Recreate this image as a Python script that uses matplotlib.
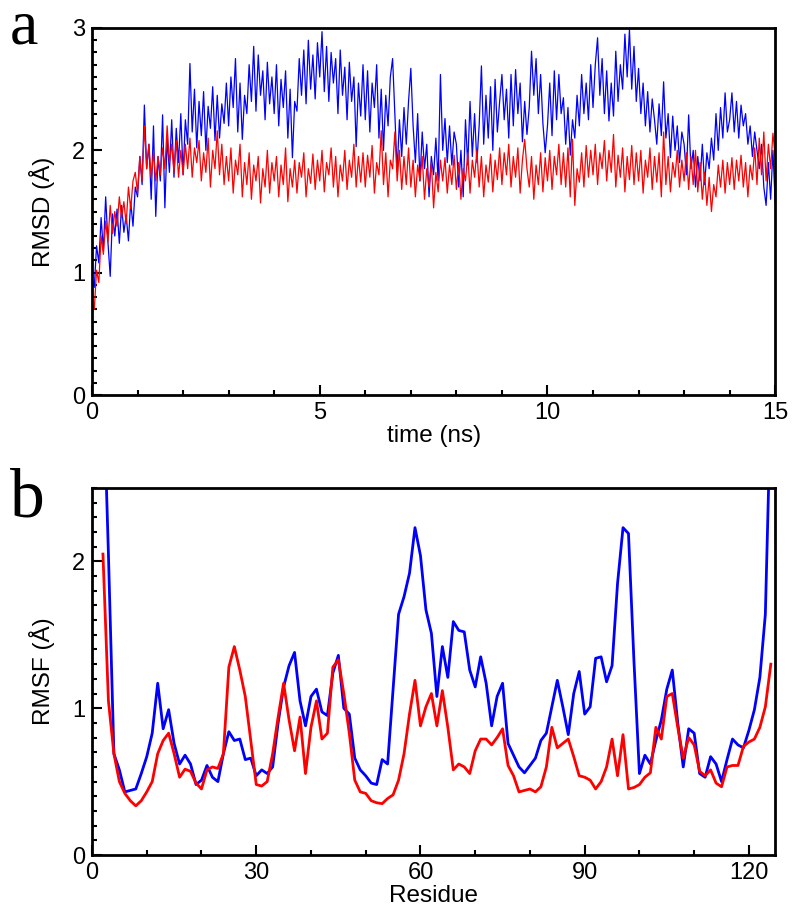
import numpy as np
import matplotlib
matplotlib.use("Agg")
import matplotlib.pyplot as plt
from matplotlib.ticker import MultipleLocator

# RMSD traces, one row per ns, step 0.05 ns
rmsd_dt = 0.05
rmsd_blue = [
    0.95, 0.88, 1.22, 1.08, 1.45, 1.18, 1.62, 1.25, 0.97, 1.48, 1.30, 1.52, 1.24, 1.55, 1.33, 1.47, 1.26, 1.58, 1.38, 1.70,
    1.62, 1.95, 1.72, 2.37, 1.85, 2.05, 1.60, 2.20, 1.46, 1.95, 1.75, 2.29, 1.53, 2.10, 1.82, 2.25, 1.78, 2.18, 1.90, 2.30,
    1.80, 2.25, 2.05, 2.71, 2.15, 2.50, 2.02, 2.40, 2.12, 2.48, 2.00, 2.36, 2.18, 2.52, 2.08, 2.45, 2.10, 2.38, 2.22, 2.55,
    2.20, 2.60, 2.35, 2.75, 2.15, 2.55, 2.09, 2.45, 2.30, 2.70, 2.40, 2.85, 2.32, 2.78, 2.45, 2.65, 2.25, 2.72, 2.38, 2.60,
    2.30, 2.70, 2.20, 2.58, 2.35, 2.65, 2.10, 2.50, 1.94, 2.40, 2.32, 2.75, 2.45, 2.82, 2.38, 2.90, 2.50, 2.78, 2.42, 2.88,
    2.60, 2.97, 2.48, 2.85, 2.40, 2.80, 2.55, 2.75, 2.30, 2.82, 2.45, 2.68, 2.25, 2.72, 2.40, 2.60, 2.03, 2.55, 2.28, 2.70,
    2.25, 2.65, 2.15, 2.55, 2.35, 2.70, 2.10, 2.50, 2.00, 2.45, 2.20, 2.60, 2.75, 2.30, 1.83, 2.25, 1.95, 2.35, 2.05, 2.40,
    2.67, 2.20, 1.90, 2.30, 1.75, 2.15, 1.85, 2.05, 1.62, 1.95, 1.80, 2.10, 1.75, 2.62, 2.00, 2.26, 1.90, 2.20, 1.88, 2.15,
    2.05, 1.70, 2.00, 1.62, 2.25, 1.88, 2.40, 1.95, 2.30, 1.90, 2.20, 2.69, 2.05, 2.45, 2.10, 2.52, 2.00, 2.58, 2.15, 2.40,
    2.62, 2.25, 2.50, 2.10, 2.62, 2.20, 2.66, 2.30, 2.55, 2.07, 2.40, 2.13, 2.35, 2.81, 2.45, 2.75, 2.30, 2.62, 2.22, 1.98,
    2.20, 2.55, 2.12, 2.65, 2.25, 2.62, 2.30, 2.43, 2.05, 2.35, 1.96, 2.25, 2.10, 2.45, 2.20, 2.62, 2.30, 2.55, 2.25, 2.70,
    2.35, 2.70, 2.92, 2.45, 2.75, 2.30, 2.65, 2.24, 2.55, 2.28, 2.81, 2.40, 2.70, 2.50, 2.95, 2.60, 2.99, 2.50, 2.85, 2.40,
    2.67, 2.30, 2.55, 2.20, 2.48, 2.15, 2.42, 2.25, 2.05, 2.38, 2.12, 2.56, 2.10, 2.30, 1.94, 2.28, 2.00, 2.20, 1.90, 2.15,
    2.05, 1.80, 2.29, 1.85, 2.00, 1.70, 1.95, 1.75, 2.05, 1.72, 1.98, 1.85, 2.10, 1.92, 2.30, 2.00, 2.35, 2.10, 2.47, 2.15,
    2.25, 2.47, 2.15, 2.40, 2.10, 2.37, 2.20, 2.30, 2.05, 2.20, 1.95, 2.15, 2.00, 1.85, 2.05, 1.70, 1.55, 1.90, 1.60, 2.00,
    1.57,
]
rmsd_red = [
    0.75, 0.70, 1.02, 0.92, 1.30, 1.15, 1.42, 1.25, 1.55, 1.32, 1.50, 1.38, 1.62, 1.45, 1.58, 1.40, 1.70, 1.52, 1.75, 1.82,
    1.65, 1.95, 1.75, 2.20, 1.85, 2.05, 1.78, 1.98, 1.75, 1.95, 1.80, 2.02, 1.85, 2.20, 1.90, 2.05, 1.82, 2.08, 1.78, 2.00,
    1.80, 2.05, 1.85, 2.10, 1.78, 2.02, 1.90, 2.08, 1.75, 1.98, 1.82, 2.10, 1.70, 2.00, 1.85, 2.16, 1.80, 2.05, 1.72, 1.95,
    1.75, 2.02, 1.65, 1.92, 1.80, 2.05, 1.62, 1.90, 1.72, 1.98, 1.60, 1.88, 1.75, 1.95, 1.57, 1.85, 1.70, 2.00, 1.65, 1.90,
    1.75, 1.95, 1.62, 1.88, 1.72, 2.02, 1.58, 1.85, 1.70, 1.92, 1.65, 1.90, 1.78, 1.98, 1.62, 1.85, 1.73, 1.97, 1.68, 1.92,
    1.75, 2.00, 1.66, 1.90, 1.80, 2.02, 1.70, 1.95, 1.62, 1.88, 1.75, 2.00, 1.68, 1.92, 1.78, 2.05, 1.70, 1.95, 1.74, 1.98,
    1.70, 1.96, 1.78, 2.04, 1.65, 1.90, 1.80, 2.16, 1.72, 1.98, 1.62, 1.92, 1.85, 2.15, 1.75, 2.00, 1.68, 1.95, 1.72, 2.02,
    1.70, 1.92, 1.62, 1.88, 1.75, 1.95, 1.60, 1.85, 1.70, 1.90, 1.53, 1.82, 1.66, 1.92, 1.75, 1.94, 1.65, 1.88, 1.72, 1.96,
    1.68, 1.90, 1.60, 1.85, 1.75, 1.98, 1.65, 1.92, 1.78, 2.00, 1.70, 1.95, 1.62, 1.88, 1.74, 1.97, 1.66, 1.92, 1.76, 2.02,
    1.72, 1.98, 1.80, 2.05, 1.70, 1.95, 1.78, 2.02, 1.65, 1.92, 2.09, 1.85, 1.70, 1.95, 1.60, 1.88, 1.72, 1.98, 1.66, 1.94,
    1.75, 2.00, 1.68, 1.95, 1.80, 2.05, 1.72, 1.98, 1.70, 2.02, 1.62, 2.09, 1.55, 1.85, 1.74, 1.98, 1.70, 2.04, 1.78, 2.00,
    1.80, 2.05, 1.72, 1.98, 1.85, 2.08, 1.75, 2.00, 1.82, 2.13, 1.70, 1.96, 1.78, 2.02, 1.66, 1.95, 1.76, 2.04, 1.72, 1.98,
    1.75, 2.00, 1.65, 1.92, 1.78, 2.02, 1.68, 1.95, 1.74, 1.98, 1.62, 2.15, 1.72, 1.95, 1.66, 1.90, 1.78, 2.00, 1.70, 1.92,
    1.75, 1.98, 1.68, 1.95, 1.72, 2.00, 1.66, 1.90, 1.60, 1.82, 1.55, 1.78, 1.50, 1.72, 1.62, 1.88, 1.70, 1.92, 1.65, 1.90,
    1.72, 1.94, 1.68, 1.92, 1.75, 1.96, 1.70, 1.90, 1.62, 1.88, 1.76, 2.02, 1.72, 2.10, 1.80, 2.15, 1.75, 2.05, 1.85, 2.14,
    1.95,
]

# RMSF per residue, residues 2..124
rmsf_first_res = 2
rmsf_blue = [
    3.30, 2.05, 0.69, 0.58, 0.43, 0.44, 0.45, 0.555, 0.67,            # 2-10
    0.83, 1.17, 0.86, 0.99, 0.76, 0.62, 0.68, 0.62, 0.48, 0.51,       # 11-20
    0.61, 0.53, 0.50, 0.69, 0.84, 0.78, 0.79, 0.65, 0.66, 0.54,       # 21-30
    0.58, 0.555, 0.60, 0.90, 1.145, 1.29, 1.38, 1.05, 0.88, 1.08,     # 31-40
    1.13, 0.975, 0.95, 1.24, 1.36, 1.00, 0.96, 0.66, 0.58, 0.54,      # 41-50
    0.49, 0.48, 0.65, 0.62, 1.13, 1.64, 1.76, 1.92, 2.23, 2.04,       # 51-60
    1.67, 1.51, 1.08, 1.42, 1.21, 1.59, 1.53, 1.52, 1.26, 1.145,      # 61-70
    1.35, 1.17, 0.88, 1.08, 1.17, 0.76, 0.68, 0.60, 0.56, 0.61,       # 71-80
    0.66, 0.78, 0.83, 1.01, 1.19, 1.01, 0.82, 1.10, 1.25, 0.96,       # 81-90
    1.01, 1.34, 1.35, 1.18, 1.29, 1.85, 2.23, 2.19, 1.32, 0.555,      # 91-100
    0.68, 0.62, 0.78, 0.92, 1.13, 1.26, 0.90, 0.60, 0.86, 0.83,       # 101-110
    0.555, 0.53, 0.67, 0.62, 0.50, 0.65, 0.79, 0.75, 0.73, 0.85,      # 111-120
    0.99, 1.21, 1.64, 3.10,                                           # 121-124
]
rmsf_red = [
    2.05, 1.05, 0.69, 0.50, 0.42, 0.37, 0.335, 0.37, 0.43,            # 2-10
    0.50, 0.69, 0.78, 0.83, 0.69, 0.53, 0.585, 0.57, 0.49, 0.45,      # 11-20
    0.58, 0.60, 0.59, 0.69, 1.28, 1.42, 1.26, 1.08, 0.78, 0.48,       # 21-30
    0.47, 0.50, 0.69, 0.94, 1.17, 0.92, 0.71, 0.94, 0.555, 0.87,      # 31-40
    1.05, 0.79, 0.83, 1.28, 1.33, 1.10, 0.83, 0.51, 0.43, 0.42,       # 41-50
    0.37, 0.356, 0.35, 0.385, 0.41, 0.51, 0.69, 0.96, 1.19, 0.88,     # 51-60
    1.01, 1.10, 0.88, 1.12, 0.87, 0.58, 0.62, 0.60, 0.555, 0.71,      # 61-70
    0.79, 0.79, 0.75, 0.80, 0.86, 0.61, 0.54, 0.43, 0.44, 0.45,       # 71-80
    0.43, 0.465, 0.60, 0.87, 0.73, 0.76, 0.79, 0.67, 0.54, 0.53,      # 81-90
    0.51, 0.45, 0.50, 0.60, 0.79, 0.54, 0.82, 0.45, 0.46, 0.48,       # 91-100
    0.53, 0.56, 0.87, 0.79, 1.08, 1.10, 0.87, 0.66, 0.80, 0.75,       # 101-110
    0.57, 0.54, 0.58, 0.49, 0.465, 0.60, 0.61, 0.61, 0.74, 0.77,      # 111-120
    0.79, 0.87, 1.01, 1.30,                                           # 121-124
]

plt.rcParams['font.family'] = ['Liberation Sans', 'DejaVu Sans']

fig = plt.figure(figsize=(8, 9.18), dpi=100)
ax1 = fig.add_axes([0.115, 0.5697, 0.854, 0.3998])
ax2 = fig.add_axes([0.115, 0.0686, 0.854, 0.3998])

t_blue = np.arange(len(rmsd_blue)) * rmsd_dt
t_red = np.arange(len(rmsd_red)) * rmsd_dt
ax1.plot(t_blue, rmsd_blue, color='#0000ff', lw=0.9)
ax1.plot(t_red, rmsd_red, color='#ff0000', lw=0.9)
ax1.set_xlim(0, 15)
ax1.set_ylim(0, 3)
ax1.xaxis.set_major_locator(MultipleLocator(5))
ax1.xaxis.set_minor_locator(MultipleLocator(1))
ax1.yaxis.set_major_locator(MultipleLocator(1))
ax1.yaxis.set_minor_locator(MultipleLocator(0.1))
ax1.set_xlabel('time (ns)', fontsize=17.5, labelpad=1)
ax1.set_ylabel('RMSD (Å)', fontsize=17.5, labelpad=12)

res = np.arange(len(rmsf_blue)) + rmsf_first_res
ax2.plot(res, rmsf_blue, color='#0000ff', lw=2)
ax2.plot(res, rmsf_red, color='#ff0000', lw=2)
ax2.set_xlim(0, 124.8)
ax2.set_ylim(0, 2.5)
ax2.xaxis.set_major_locator(MultipleLocator(30))
ax2.xaxis.set_minor_locator(MultipleLocator(10))
ax2.yaxis.set_major_locator(MultipleLocator(1))
ax2.yaxis.set_minor_locator(MultipleLocator(0.1))
ax2.set_xlabel('Residue', fontsize=17.5, labelpad=1)
ax2.set_ylabel('RMSF (Å)', fontsize=17.5, labelpad=12)

for ax in (ax1, ax2):
    for s in ax.spines.values():
        s.set_linewidth(2)
    ax.tick_params(which='both', direction='in', width=1.5, labelsize=17,
                   top=False, right=False)
    ax.tick_params(which='major', length=7, pad=5)
    ax.tick_params(which='minor', length=3.5)

# panel letters
fig.text(0.012, 0.9521, 'a', fontsize=46, family='Liberation Serif', va='baseline')
fig.text(0.012, 0.437, 'b', fontsize=50, family='Liberation Serif', va='baseline')

fig.savefig('out.png', dpi=100)
